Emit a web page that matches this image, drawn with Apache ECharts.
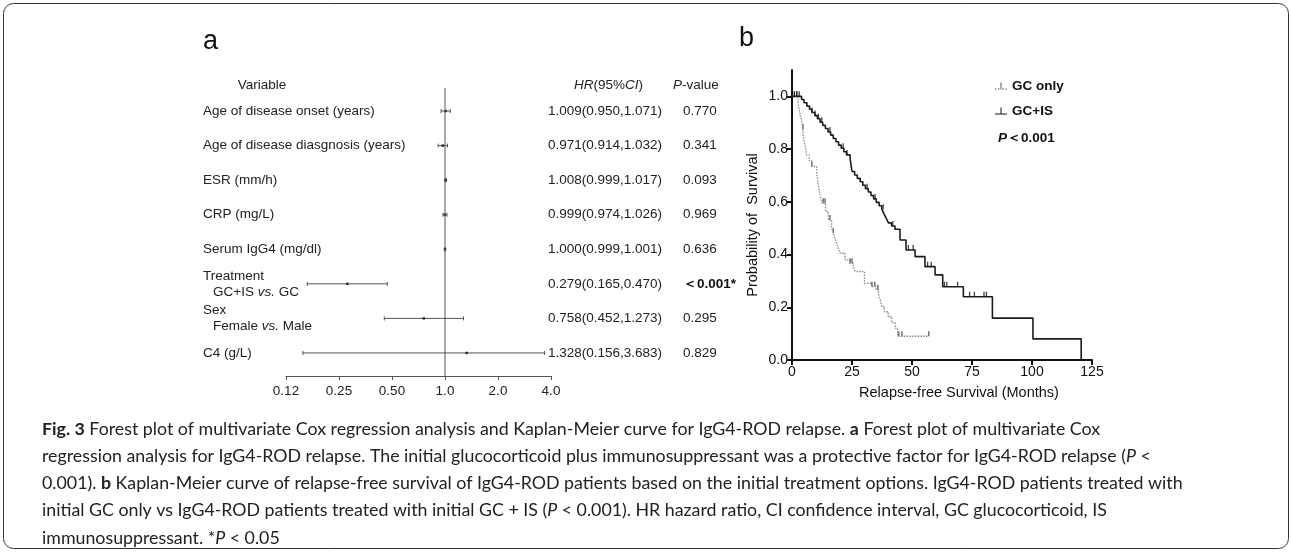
<!DOCTYPE html>
<html><head><meta charset="utf-8">
<script src="https://cdn.jsdelivr.net/npm/echarts@6/dist/echarts.min.js"></script>
<style>html,body{margin:0;padding:0;background:#fff}#c{width:1292px;height:553px}</style>
</head><body><div id="c"></div>
<script>
// ---------- Forest plot data ----------
const rowLabels = ['Age of disease onset (years)', 'Age of disease diasgnosis (years)', 'ESR (mm/h)', 'CRP (mg/L)',
  'Serum IgG4 (mg/dl)', 'Treatment\nGC+IS vs. GC', 'Sex\nFemale vs. Male', 'C4 (g/L)'];
const hr     = [1.009, 0.971, 1.008, 0.999, 1.000, 0.279, 0.758, 1.328];
const ciLow  = [0.950, 0.914, 0.999, 0.974, 0.999, 0.165, 0.452, 0.156];
const ciHigh = [1.071, 1.032, 1.017, 1.026, 1.001, 0.470, 1.273, 3.683];
const hrText = ['1.009(0.950,1.071)', '0.971(0.914,1.032)', '1.008(0.999,1.017)', '0.999(0.974,1.026)',
  '1.000(0.999,1.001)', '0.279(0.165,0.470)', '0.758(0.452,1.273)', '1.328(0.156,3.683)'];
const pText  = ['0.770', '0.341', '0.093', '0.969', '0.636', '＜0.001*', '0.295', '0.829'];
const forestTicks = [0.125, 0.25, 0.5, 1, 2, 4];
const forestTickLabels = ['0.12', '0.25', '0.50', '1.0', '2.0', '4.0'];

// ---------- Kaplan-Meier data ----------
const gcOnlyTimes = [2.5, 3.0, 3.5, 4.0, 4.5, 4.8, 5.5, 6.1, 7.2, 8.2, 10.3, 10.7, 11.0, 11.7, 12.4, 14.0, 15.1, 16.5, 17.2, 17.9,
  18.6, 19.3, 20.0, 22.1, 24.0, 25.5, 26.3, 30.2, 33.2, 35.0, 36.0, 36.8, 37.4, 38.5, 40.1, 41.5, 43.0, 44.0];
const gcOnlySurv  = [0.975, 0.95, 0.925, 0.91, 0.875, 0.84, 0.81, 0.778, 0.756, 0.734, 0.708, 0.683, 0.658, 0.627, 0.595, 0.563, 0.531, 0.506, 0.481, 0.462,
  0.443, 0.424, 0.405, 0.380, 0.367, 0.354, 0.335, 0.291, 0.278, 0.266, 0.253, 0.228, 0.202, 0.183, 0.164, 0.142, 0.121, 0.090];
const gcOnlyLastFollowUp = 57;
const gcOnlyCensored = [1, 2, 4.6, 8.3, 13, 13.8, 15.8, 17.2, 24.2, 25, 33.3, 34.5, 35.8, 44.5, 45.8, 57];

const gcIsTimes = [4.0, 5.0, 6.2, 7.3, 8.3, 9.5, 10.6, 11.7, 12.8, 13.9, 15.0, 16.1, 17.2, 18.3, 19.4, 20.5, 21.6, 22.7, 24.2, 25.0,
  26.1, 27.2, 28.4, 29.5, 30.6, 31.8, 32.9, 34.0, 35.1, 36.3, 37.4, 38.1, 38.8, 39.5, 40.2, 41.5, 42.9, 45.0, 47.5, 51.3,
  55.4, 59.6, 62.8, 71.4, 83.5, 100.4, 120.5];
const gcIsSurv  = [0.988, 0.976, 0.963, 0.951, 0.939, 0.927, 0.915, 0.902, 0.890, 0.878, 0.865, 0.853, 0.840, 0.828, 0.815, 0.803, 0.790, 0.778, 0.765, 0.715,
  0.702, 0.689, 0.676, 0.663, 0.650, 0.637, 0.624, 0.611, 0.598, 0.585, 0.572, 0.559, 0.546, 0.533, 0.520, 0.508, 0.496, 0.455, 0.417, 0.392,
  0.354, 0.323, 0.278, 0.240, 0.159, 0.080, 0.000];
const gcIsLastFollowUp = 120.5;
const gcIsCensored = [1, 2, 3, 8.3, 9.6, 11, 12.4, 15.8, 21.3, 22.9, 31.3, 34.6, 38, 42, 48.5, 50.5, 56.5, 58, 63.5, 64.5, 69, 74, 76, 80, 81];

const kmYTicks = [0, 0.2, 0.4, 0.6, 0.8, 1.0];

const captionLines = [
  '{b|Fig. 3} Forest plot of multivariate Cox regression analysis and Kaplan-Meier curve for IgG4-ROD relapse. {b|a} Forest plot of multivariate Cox',
  'regression analysis for IgG4-ROD relapse. The initial glucocorticoid plus immunosuppressant was a protective factor for IgG4-ROD relapse ({i|P} <',
  '0.001). {b|b} Kaplan-Meier curve of relapse-free survival of IgG4-ROD patients based on the initial treatment options. IgG4-ROD patients treated with',
  'initial GC only vs IgG4-ROD patients treated with initial GC + IS ({i|P} < 0.001). HR hazard ratio, CI confidence interval, GC glucocorticoid, IS',
  'immunosuppressant. *{i|P} < 0.05'
];

// ---------- helpers ----------
function kmSteps(times, surv, last) {
  const d = [[0, 1]];
  times.forEach((t, i) => d.push([t, surv[i]]));
  if (last > times[times.length - 1]) d.push([last, surv[surv.length - 1]]);
  return d;
}
function survAt(times, surv, t) {
  let s = 1;
  for (let i = 0; i < times.length; i++) { if (times[i] <= t) s = surv[i]; }
  return s;
}
const FF = 'Liberation Sans, Arial, sans-serif';
const CAP_FONT = 'Lato';
const CAP_SIZE = 17.8;
const rowIdx = rowLabels.map((_, i) => i);
const Y_MIN = -0.667, Y_MAX = 7.667;

const chart = echarts.init(document.getElementById('c'));
chart.setOption({
  animation: false,
  backgroundColor: '#fff',
  textStyle: { fontFamily: FF },
  grid: [
    { left: 286, top: 88, width: 265, height: 288, outerBoundsMode: 'none' },
    { left: 792, top: 70, width: 300, height: 290, outerBoundsMode: 'none' }
  ],
  legend: {
    orient: 'vertical', left: 990, top: 74, itemWidth: 12, itemHeight: 7, itemGap: 11,
    selectedMode: false,
    textStyle: { fontFamily: FF, fontWeight: 'bold', fontSize: 13.5, color: '#111' },
    data: [
      { name: 'GC only', icon: 'path://M0,6h1.5v1h-1.5zM3,6h1.5v1h-1.5zM7.5,6h1.5v1h-1.5zM10.5,6h1.5v1h-1.5zM5.5,0h1v7h-1z', itemStyle: { color: '#555', borderWidth: 0 } },
      { name: 'GC+IS', icon: 'path://M0,6h12v1h-12zM5.5,0h1v6h-1z', itemStyle: { color: '#111', borderWidth: 0 } }
    ]
  },
  xAxis: [
    {
      gridIndex: 0, type: 'log', logBase: 2, min: 0.125, max: 4, position: 'bottom',
      axisLine: { onZero: false, lineStyle: { color: '#555', width: 1 } },
      axisTick: { length: 4, lineStyle: { color: '#555' }, customValues: forestTicks },
      splitLine: { show: false }, minorTick: { show: false },
      axisLabel: {
        customValues: forestTicks, color: '#222', fontSize: 13.5, margin: 8,
        formatter: v => { const i = forestTicks.findIndex(x => Math.abs(x - v) < 1e-6); return i >= 0 ? forestTickLabels[i] : ''; }
      }
    },
    {
      gridIndex: 1, type: 'value', min: 0, max: 125, interval: 25,
      axisLine: { onZero: false, lineStyle: { color: '#111', width: 2 } },
      axisTick: { length: 5, lineStyle: { color: '#111', width: 2 } },
      splitLine: { show: false },
      axisLabel: { color: '#111', fontSize: 14, margin: 5 },
      name: 'Relapse-free Survival (Months)', nameLocation: 'middle', nameGap: 25,
      nameTextStyle: { fontSize: 14.5, color: '#111', padding: [0, 0, 0, 34] }
    }
  ],
  yAxis: [
    {
      gridIndex: 0, type: 'value', inverse: true, min: Y_MIN, max: Y_MAX, position: 'left',
      axisLine: { show: false, onZero: false }, axisTick: { show: false }, splitLine: { show: false },
      axisLabel: {
        customValues: rowIdx, align: 'left', margin: 83, color: '#222', fontSize: 13.5, lineHeight: 16,
        formatter: v => {
          const s = rowLabels[Math.round(v)] || '';
          const parts = s.split('\n');
          if (parts.length === 1) return s;
          return parts[0] + '\n{ind|}' + parts[1].replace('vs.', '{it|vs.}');
        },
        rich: {
          ind: { width: 10, fontSize: 13.5 },
          it: { fontStyle: 'italic', fontSize: 13.5, color: '#222' }
        }
      }
    },
    {
      gridIndex: 0, type: 'value', inverse: true, min: Y_MIN, max: Y_MAX, position: 'right',
      axisLine: { show: false, onZero: false }, axisTick: { show: false }, splitLine: { show: false },
      axisLabel: { customValues: rowIdx, align: 'left', margin: -3, color: '#222', fontSize: 13.5,
        formatter: v => hrText[Math.round(v)] || '' }
    },
    {
      gridIndex: 0, type: 'value', inverse: true, min: Y_MIN, max: Y_MAX, position: 'right', offset: 132,
      axisLine: { show: false, onZero: false }, axisTick: { show: false }, splitLine: { show: false },
      axisLabel: { customValues: rowIdx, align: 'left', margin: 0, color: '#222', fontSize: 13.5,
        formatter: v => { const s = pText[Math.round(v)] || ''; return s.indexOf('＜') >= 0 ? '{b|' + s + '}' : s; },
        rich: { b: { fontWeight: 'bold', fontSize: 13.5, color: '#111' } }
      }
    },
    {
      gridIndex: 1, type: 'value', min: 0, max: 1.1,
      axisLine: { show: true, onZero: false, lineStyle: { color: '#111', width: 2 } },
      axisTick: { show: true, length: 5, lineStyle: { color: '#111', width: 2 }, customValues: kmYTicks },
      splitLine: { show: false },
      axisLabel: { customValues: kmYTicks, color: '#111', fontSize: 14, margin: 4, formatter: v => v.toFixed(1) },
      name: 'Probability of  Survival', nameLocation: 'middle', nameGap: 32,
      nameTextStyle: { fontSize: 14.5, color: '#111', padding: [0, 20, 0, 0] }
    }
  ],
  series: [
    {
      type: 'line', xAxisIndex: 0, yAxisIndex: 0, silent: true, symbol: 'none',
      lineStyle: { color: '#555', width: 1 },
      data: [[1, Y_MIN], [1, Y_MAX]]
    },
    {
      type: 'custom', xAxisIndex: 0, yAxisIndex: 0, silent: true,
      data: rowIdx.map(i => [i, hr[i], ciLow[i], ciHigh[i]]),
      encode: { x: [1, 2, 3], y: 0 },
      renderItem: (params, api) => {
        const r = api.value(0);
        const pl = api.coord([api.value(2), r]), pu = api.coord([api.value(3), r]), ph = api.coord([api.value(1), r]);
        const st = { stroke: '#555', lineWidth: 1 };
        return { type: 'group', children: [
          { type: 'line', shape: { x1: pl[0], y1: pl[1], x2: pu[0], y2: pu[1] }, style: st },
          { type: 'line', shape: { x1: pl[0], y1: pl[1] - 2, x2: pl[0], y2: pl[1] + 2 }, style: st },
          { type: 'line', shape: { x1: pu[0], y1: pu[1] - 2, x2: pu[0], y2: pu[1] + 2 }, style: st },
          { type: 'rect', shape: { x: ph[0] - 1.2, y: ph[1] - 1.2, width: 2.4, height: 2.4 }, style: { fill: '#222' } }
        ] };
      }
    },
    {
      name: 'GC only', type: 'line', xAxisIndex: 1, yAxisIndex: 3, step: 'end', symbol: 'none',
      itemStyle: { color: '#555' },
      lineStyle: { color: '#8a8a8a', width: 1.3, type: [1.5, 1.3] },
      data: kmSteps(gcOnlyTimes, gcOnlySurv, gcOnlyLastFollowUp)
    },
    {
      name: 'GC+IS', type: 'line', xAxisIndex: 1, yAxisIndex: 3, step: 'end', symbol: 'none',
      itemStyle: { color: '#111' },
      lineStyle: { color: '#1c1c1c', width: 1.6 },
      data: kmSteps(gcIsTimes, gcIsSurv, gcIsLastFollowUp)
    },
    {
      name: 'GC only censored', type: 'scatter', xAxisIndex: 1, yAxisIndex: 3, silent: true,
      symbol: 'rect', symbolSize: [1.3, 5], symbolOffset: [0, -2.5], itemStyle: { color: '#333' },
      data: gcOnlyCensored.map(t => [t, survAt(gcOnlyTimes, gcOnlySurv, t)])
    },
    {
      name: 'GC+IS censored', type: 'scatter', xAxisIndex: 1, yAxisIndex: 3, silent: true,
      symbol: 'rect', symbolSize: [1.3, 5], symbolOffset: [0, -2.5], itemStyle: { color: '#111' },
      data: gcIsCensored.map(t => [t, survAt(gcIsTimes, gcIsSurv, t)])
    }
  ],
  graphic: [
    { type: 'rect', silent: true, shape: { x: 3.5, y: 3.5, width: 1285, height: 545, r: 10 },
      style: { fill: 'none', stroke: '#333', lineWidth: 1 } },
    { type: 'text', left: 203, top: 28, style: { text: 'a', fontFamily: FF, fontSize: 27, fill: '#111' } },
    { type: 'text', left: 739, top: 25, style: { text: 'b', fontFamily: FF, fontSize: 27, fill: '#111' } },
    { type: 'text', x: 262, y: 85, style: { text: 'Variable', fontFamily: FF, fontSize: 13.5, fill: '#222', align: 'center', verticalAlign: 'middle' } },
    { type: 'text', x: 643, y: 85, style: { text: '{i|HR}(95%{i|CI})', fontFamily: FF, fontSize: 13.5, fill: '#222', align: 'right', verticalAlign: 'middle',
      rich: { i: { fontStyle: 'italic', fontFamily: FF, fontSize: 13.5, fill: '#222' } } } },
    { type: 'text', x: 673, y: 85, style: { text: '{i|P}-value', fontFamily: FF, fontSize: 13.5, fill: '#222', align: 'left', verticalAlign: 'middle',
      rich: { i: { fontStyle: 'italic', fontFamily: FF, fontSize: 13.5, fill: '#222' } } } },
    { type: 'text', x: 998, y: 138, style: { text: '{i|P}＜0.001', fontFamily: FF, fontSize: 13.5, fontWeight: 'bold', fill: '#111', align: 'left', verticalAlign: 'middle',
      rich: { i: { fontStyle: 'italic', fontWeight: 'bold', fontFamily: FF, fontSize: 13.5, fill: '#111' } } } }
  ].concat(captionLines.map((line, k) => ({
    type: 'text', x: 42, y: 429 + k * 27.2,
    style: {
      text: line, fontFamily: CAP_FONT, fontSize: CAP_SIZE, fill: '#222', align: 'left', verticalAlign: 'middle',
      rich: {
        b: { fontWeight: 'bold', fontFamily: CAP_FONT, fontSize: CAP_SIZE, fill: '#222' },
        i: { fontStyle: 'italic', fontFamily: CAP_FONT, fontSize: CAP_SIZE, fill: '#222' }
      }
    }
  })))
});
</script>
</body></html>
